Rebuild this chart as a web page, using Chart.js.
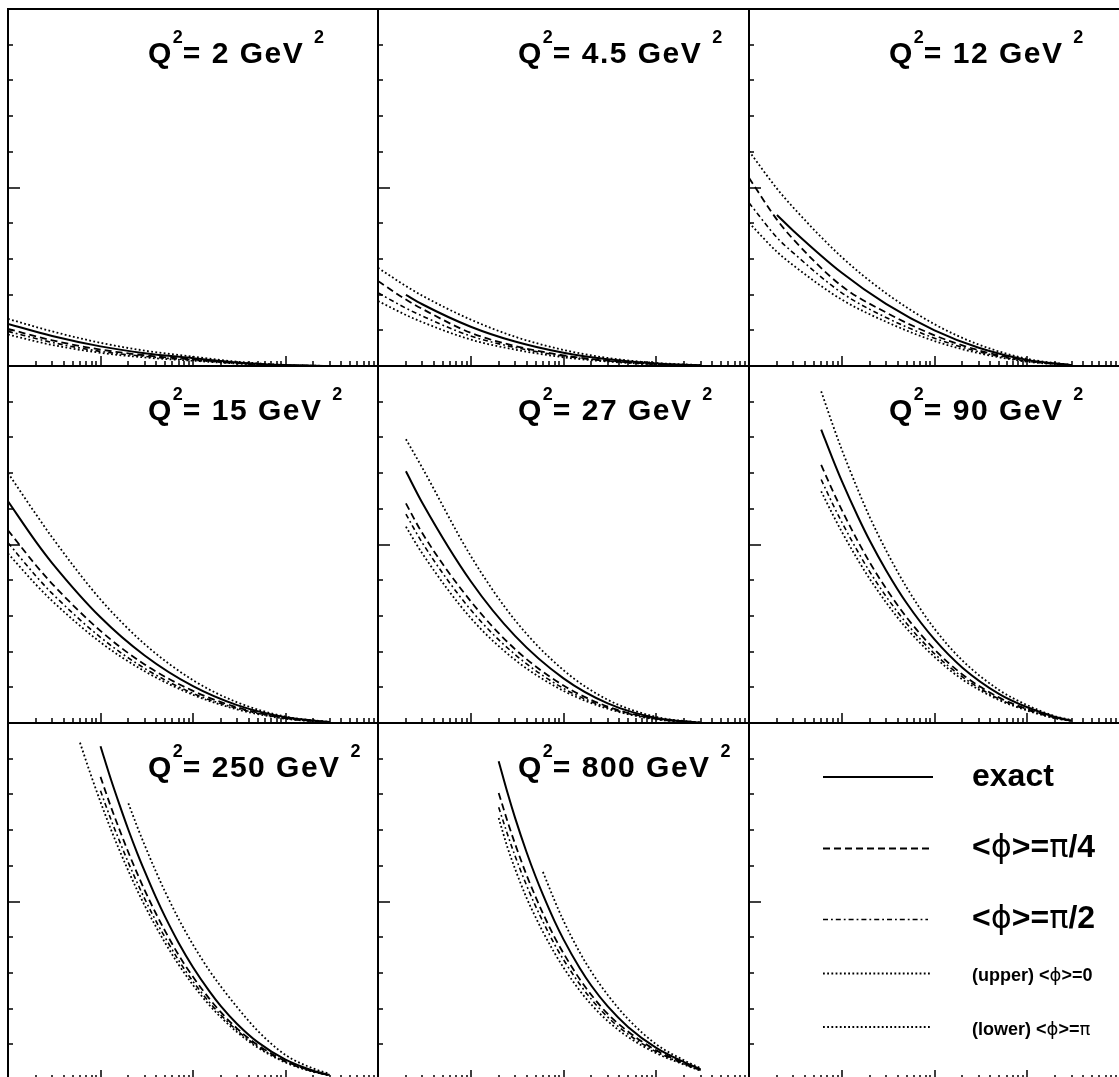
<!DOCTYPE html>
<html>
<head>
<meta charset="utf-8">
<script src="https://cdn.jsdelivr.net/npm/chart.js@4"></script>
<style>
  body { margin: 0; background: #fff; overflow: hidden; }
  #fig { position: relative; width: 1119px; height: 1077px; overflow: hidden; background: #fff; }
  #fig canvas { position: absolute; }
  .ttl { position: absolute; font: bold 30px "Liberation Sans", Arial, sans-serif; line-height: 30px; white-space: nowrap; letter-spacing: 1.5px; color: #000; }
  .ttl .s { font-size: 18px; position: relative; top: -20px; letter-spacing: 0; }
  .lg { position: absolute; font: bold 32px "Liberation Sans", Arial, sans-serif; line-height: 32px; white-space: nowrap; color: #000; }
  .lg.sm { font-size: 18px; line-height: 18px; }
  .g { font-weight: normal; font-family: "DejaVu Sans", "Liberation Sans", sans-serif; }
</style>
</head>
<body>
<div id="fig"></div>
<script>
// Q^2 of the eight panels (GeV^2)
const q2Values = ['2', '4.5', '12', '15', '27', '90', '250', '800'];
const legendLabels = ['exact', '<ϕ>=π/4', '<ϕ>=π/2', '(upper) <ϕ>=0', '(lower) <ϕ>=π'];

// x grids (log axis 1e-5 .. 1e-1)
const x1 = [1e-5, 3e-5, 1e-4, 3e-4, 1e-3, 3e-3, 1e-2, 3e-2];
const xA = [1e-5, 2e-5, 3e-5, 1e-4, 3e-4, 1e-3, 3e-3, 1e-2, 3e-2];
const xB = [2e-5, 3e-5, 1e-4, 3e-4, 1e-3, 3e-3, 1e-2, 3e-2];
const xC = [6e-5, 8e-5, 1e-4, 1.5e-4, 2e-4, 3e-4, 5e-4, 1e-3, 2e-3, 5e-3, 1e-2, 2e-2, 3e-2];
const xD = [6e-5, 8e-5, 1e-4, 1.3e-4, 1.6e-4, 2e-4, 2.5e-4, 3e-4, 4e-4, 5e-4, 7e-4, 1e-3, 1.5e-3, 2e-3, 3e-3, 5e-3, 1e-2, 2e-2, 3e-2];
const xE = [2e-4, 2.5e-4, 3e-4, 4e-4, 5e-4, 6e-4, 8e-4, 1e-3, 1.5e-3, 2e-3, 3e-3, 5e-3, 1e-2, 2e-2, 3e-2];

// Q2 = 2
const exact_2 = [1.18, 0.84, 0.55, 0.36, 0.22, 0.10, 0.025, 0];
const upper_2 = [1.32, 0.97, 0.65, 0.43, 0.26, 0.12, 0.03, 0];
const pi4_2   = [1.04, 0.72, 0.46, 0.30, 0.185, 0.085, 0.02, 0];
const pi2_2   = [0.97, 0.66, 0.41, 0.27, 0.165, 0.075, 0.018, 0];
const lower_2 = [0.88, 0.59, 0.37, 0.24, 0.148, 0.067, 0.016, 0];
// Q2 = 4.5
const exact_45 = [null, 1.99, 1.73, 1.10, 0.684, 0.37, 0.187, 0.072, 0.02];
const upper_45 = [2.75, 2.24, 1.97, 1.30, 0.82, 0.45, 0.225, 0.085, 0.025];
const pi4_45   = [2.38, 1.86, 1.60, 0.93, 0.56, 0.30, 0.15, 0.058, 0.016];
const pi2_45   = [2.05, 1.62, 1.40, 0.84, 0.52, 0.28, 0.142, 0.055, 0.015];
const lower_45 = [1.82, 1.43, 1.23, 0.74, 0.46, 0.245, 0.125, 0.048, 0.013];
// Q2 = 12
const exact_12 = [null, 4.23, 3.79, 2.61, 1.74, 1.00, 0.513, 0.172, 0.024];
const upper_12 = [6.02, 4.97, 4.44, 3.05, 2.04, 1.17, 0.60, 0.20, 0.03];
const pi4_12   = [5.27, 4.10, 3.55, 2.24, 1.50, 0.86, 0.44, 0.15, 0.02];
const pi2_12   = [4.57, 3.60, 3.17, 2.05, 1.36, 0.78, 0.40, 0.135, 0.02];
const lower_12 = [4.01, 3.20, 2.82, 1.86, 1.24, 0.70, 0.36, 0.12, 0.02];
// Q2 = 15
const exact_15 = [6.21, 5.08, 4.48, 2.96, 1.89, 1.03, 0.50, 0.16, 0.025];
const upper_15 = [7.00, 5.85, 5.20, 3.46, 2.21, 1.20, 0.58, 0.18, 0.03];
const pi4_15   = [5.40, 4.42, 3.90, 2.58, 1.64, 0.90, 0.44, 0.14, 0.02];
const pi2_15   = [5.05, 4.12, 3.63, 2.40, 1.53, 0.83, 0.41, 0.13, 0.02];
const lower_15 = [4.75, 3.88, 3.42, 2.26, 1.45, 0.79, 0.38, 0.12, 0.02];
// Q2 = 27
const exact_27 = [7.05, 6.17, 3.97, 2.44, 1.25, 0.55, 0.14, 0.01];
const upper_27 = [7.95, 7.15, 4.68, 2.88, 1.48, 0.65, 0.17, 0.01];
const pi4_27   = [6.15, 5.32, 3.41, 2.07, 1.05, 0.46, 0.12, 0.01];
const pi2_27   = [5.85, 5.05, 3.17, 1.92, 0.97, 0.43, 0.11, 0.01];
const lower_27 = [5.50, 4.75, 2.94, 1.77, 0.90, 0.40, 0.10, 0.01];
// Q2 = 90
const exact_90 = [8.22, 7.39, 6.78, 5.77, 5.11, 4.28, 3.36, 2.34, 1.55, 0.81, 0.44, 0.17, 0.07];
const upper_90 = [9.29, 8.35, 7.66, 6.52, 5.77, 4.84, 3.80, 2.64, 1.75, 0.92, 0.50, 0.19, 0.08];
const pi4_90   = [7.23, 6.50, 5.97, 5.08, 4.50, 3.77, 2.96, 2.06, 1.36, 0.71, 0.39, 0.15, 0.06];
const pi2_90   = [6.82, 6.13, 5.63, 4.79, 4.24, 3.55, 2.79, 1.94, 1.29, 0.67, 0.37, 0.14, 0.06];
const lower_90 = [6.49, 5.84, 5.36, 4.56, 4.04, 3.38, 2.65, 1.85, 1.22, 0.64, 0.35, 0.13, 0.055];
// Q2 = 250
const exact_250 = [null, null, 9.35, 8.41, 7.72, 7.01, 6.35, 5.85, 5.10, 4.57, 3.84, 3.16, 2.49, 2.07, 1.57, 1.06, 0.57, 0.26, 0.14];
const upper_250 = [null, null, null, null, null, 7.75, 7.09, 6.58, 5.82, 5.27, 4.51, 3.79, 3.07, 2.62, 2.04, 1.38, 0.70, 0.32, 0.17];
const pi4_250   = [null, null, 8.49, 7.64, 7.02, 6.38, 5.78, 5.32, 4.65, 4.17, 3.50, 2.89, 2.28, 1.90, 1.44, 0.98, 0.53, 0.24, 0.13];
const pi2_250   = [null, null, 8.10, 7.29, 6.70, 6.09, 5.52, 5.08, 4.44, 3.99, 3.35, 2.76, 2.18, 1.82, 1.39, 0.94, 0.51, 0.23, 0.13];
const lower_250 = [9.45, 8.49, 7.79, 7.01, 6.44, 5.86, 5.31, 4.89, 4.28, 3.84, 3.23, 2.66, 2.10, 1.76, 1.34, 0.91, 0.49, 0.23, 0.13];
// Q2 = 800
const exact_800 = [8.93, 8.03, 7.35, 6.38, 5.70, 5.19, 4.45, 3.94, 3.13, 2.64, 2.06, 1.48, 0.90, 0.50, 0.30];
const upper_800 = [null, null, null, null, null, 5.83, 5.03, 4.46, 3.57, 3.03, 2.38, 1.70, 1.00, 0.55, 0.33];
const pi4_800   = [8.04, 7.23, 6.62, 5.74, 5.13, 4.67, 4.00, 3.55, 2.82, 2.38, 1.85, 1.35, 0.83, 0.47, 0.28];
const pi2_800   = [7.64, 6.87, 6.28, 5.45, 4.87, 4.44, 3.80, 3.37, 2.68, 2.26, 1.76, 1.28, 0.79, 0.45, 0.27];
const lower_800 = [7.34, 6.50, 5.92, 5.10, 4.56, 4.15, 3.56, 3.15, 2.50, 2.11, 1.65, 1.20, 0.75, 0.43, 0.26];

const panels = [
  { x: x1, curves: [exact_2, pi4_2, pi2_2, upper_2, lower_2] },
  { x: xA, curves: [exact_45, pi4_45, pi2_45, upper_45, lower_45] },
  { x: xA, curves: [exact_12, pi4_12, pi2_12, upper_12, lower_12] },
  { x: xA, curves: [exact_15, pi4_15, pi2_15, upper_15, lower_15] },
  { x: xB, curves: [exact_27, pi4_27, pi2_27, upper_27, lower_27] },
  { x: xC, curves: [exact_90, pi4_90, pi2_90, upper_90, lower_90] },
  { x: xD, curves: [exact_250, pi4_250, pi2_250, upper_250, lower_250] },
  { x: xE, curves: [exact_800, pi4_800, pi2_800, upper_800, lower_800] },
  { x: [], curves: [] }  // legend panel
];

// line styles, same order as legendLabels
const lineStyles = [
  { borderDash: [], borderWidth: 2 },
  { borderDash: [7, 4], borderWidth: 1.8 },
  { borderDash: [5, 3, 1.8, 3], borderWidth: 1.6 },
  { borderDash: [1.8, 2.4], borderWidth: 1.8 },
  { borderDash: [1.8, 2.4], borderWidth: 1.8 }
];

const colLeft = [8, 378, 749], colWidth = [370, 371, 371];
const rowTop = [9, 366, 723], rowHeight = 357;
const pad = 4;

// frame and inward ticks
const frameTicks = {
  id: 'frameTicks',
  afterDatasetsDraw(chart) {
    const { ctx, chartArea: a, scales } = chart;
    const xs = scales.x, ys = scales.y;
    ctx.save();
    ctx.strokeStyle = '#000';
    ctx.lineWidth = 1.5;
    ctx.beginPath();
    for (let d = -5; d < -1; d++) {
      for (let m = 1; m <= 9; m++) {
        if (d === -5 && m === 1) continue;
        const px = Math.round(xs.getPixelForValue(m * Math.pow(10, d)));
        const len = m === 1 ? 10 : 5;
        ctx.moveTo(px, a.bottom);
        ctx.lineTo(px, a.bottom - len);
      }
    }
    for (let v = 1; v < 10; v++) {
      const py = Math.round(ys.getPixelForValue(v));
      ctx.moveTo(a.left, py);
      ctx.lineTo(a.left + (v === 5 ? 12 : 5), py);
    }
    ctx.stroke();
    ctx.lineWidth = 2;
    ctx.strokeRect(a.left, a.top, a.right - a.left, a.bottom - a.top);
    ctx.restore();
  }
};

// legend samples in the last panel
const legendLines = {
  id: 'legendLines',
  afterDatasetsDraw(chart, args, opts) {
    if (!opts.show) return;
    const { ctx, chartArea: a } = chart;
    const rows = [54, 125.5, 196.5, 250.5, 304];
    const ends = [184, 184, 179, 181, 181];
    ctx.save();
    ctx.strokeStyle = '#000';
    lineStyles.forEach((st, i) => {
      ctx.lineWidth = st.borderWidth;
      ctx.setLineDash(st.borderDash);
      ctx.beginPath();
      ctx.moveTo(a.left + 74, a.top + rows[i]);
      ctx.lineTo(a.left + ends[i], a.top + rows[i]);
      ctx.stroke();
    });
    ctx.restore();
  }
};

const fig = document.getElementById('fig');

panels.forEach((p, k) => {
  const col = k % 3, row = Math.floor(k / 3);
  const w = colWidth[col] + 2 * pad, h = rowHeight + 2 * pad;
  const cv = document.createElement('canvas');
  cv.width = w; cv.height = h;
  cv.style.width = w + 'px'; cv.style.height = h + 'px';
  cv.style.left = (colLeft[col] - pad) + 'px';
  cv.style.top = (rowTop[row] - pad) + 'px';
  fig.appendChild(cv);

  new Chart(cv, {
    type: 'line',
    data: {
      labels: p.x,
      datasets: p.curves.map((c, i) => ({
        data: c,
        borderColor: '#000',
        borderWidth: lineStyles[i].borderWidth,
        borderDash: lineStyles[i].borderDash,
        pointRadius: 0,
        fill: false,
        cubicInterpolationMode: 'monotone',
        spanGaps: false
      }))
    },
    options: {
      responsive: false,
      animation: false,
      devicePixelRatio: 1,
      layout: { padding: pad },
      plugins: {
        legend: { display: false },
        tooltip: { enabled: false },
        legendLines: { show: k === 8 }
      },
      scales: {
        x: { type: 'logarithmic', min: 1e-5, max: 1e-1, display: false },
        y: { type: 'linear', min: 0, max: 10, display: false }
      }
    },
    plugins: [frameTicks, legendLines]
  });

  if (k < 8) {
    const t = document.createElement('div');
    t.className = 'ttl';
    t.style.left = (colLeft[col] + 140) + 'px';
    t.style.top = (rowTop[row] + 29) + 'px';
    t.innerHTML = 'Q<span class="s">2</span>= ' + q2Values[k] + ' GeV <span class="s">2</span>';
    fig.appendChild(t);
  }
});

// legend texts
const lgTops = [759, 830, 901, 966, 1020];
legendLabels.forEach((lab, i) => {
  const d = document.createElement('div');
  d.className = i < 3 ? 'lg' : 'lg sm';
  d.style.left = '972px';
  d.style.top = lgTops[i] + 'px';
  d.innerHTML = lab.replace(/&/g, '&amp;').replace(/</g, '&lt;').replace(/>/g, '&gt;')
    .replace(/ϕ/g, '<span class="g">ϕ</span>').replace(/π/g, '<span class="g">π</span>');
  fig.appendChild(d);
});
</script>
</body>
</html>
